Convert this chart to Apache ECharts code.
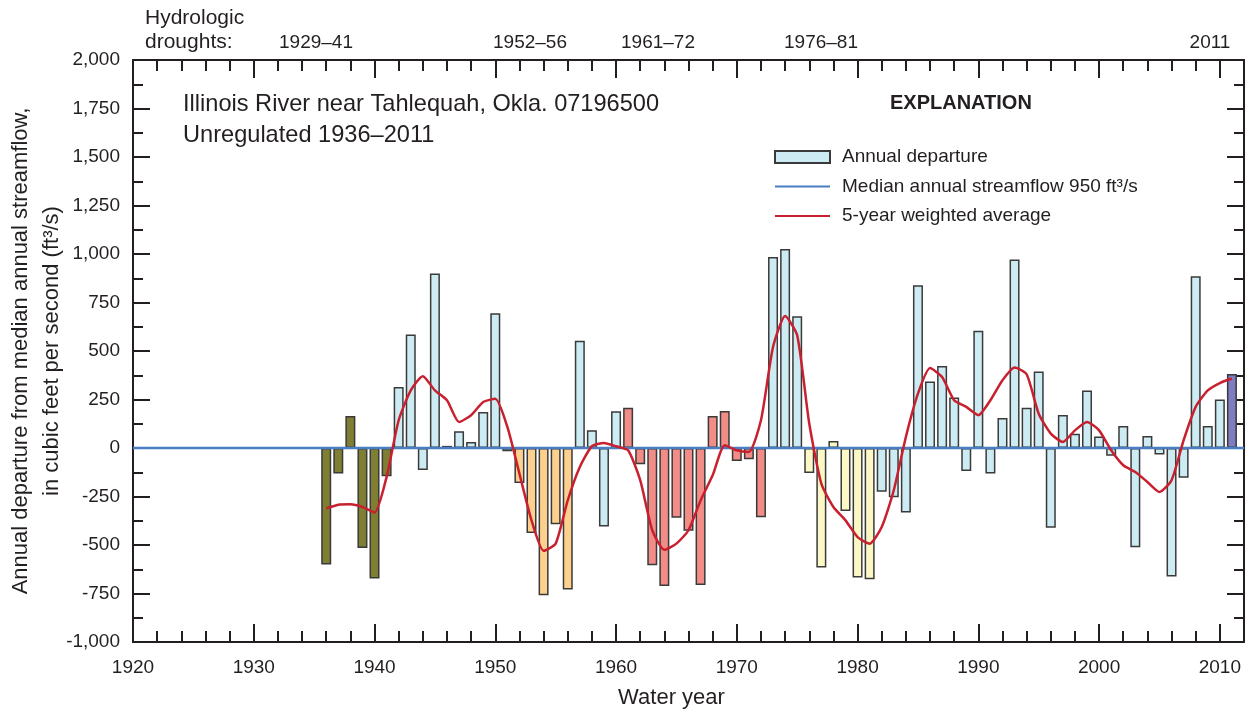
<!DOCTYPE html>
<html>
<head>
<meta charset="utf-8">
<title>Illinois River near Tahlequah, Okla. - annual departure</title>
<script src="https://cdn.jsdelivr.net/npm/echarts@6/dist/echarts.min.js"></script>
<style>
  html, body { margin: 0; padding: 0; background: #fff; }
  #chart { width: 1251px; height: 715px; }
</style>
</head>
<body>
<div id="chart"></div>
<script>
// water years on record (unregulated 1936-2011)
const years = [
  1936, 1937, 1938, 1939, 1940, 1941, 1942, 1943, 1944, 1945,
  1946, 1947, 1948, 1949, 1950, 1951, 1952, 1953, 1954, 1955,
  1956, 1957, 1958, 1959, 1960, 1961, 1962, 1963, 1964, 1965,
  1966, 1967, 1968, 1969, 1970, 1971, 1972, 1973, 1974, 1975,
  1976, 1977, 1978, 1979, 1980, 1981, 1982, 1983, 1984, 1985,
  1986, 1987, 1988, 1989, 1990, 1991, 1992, 1993, 1994, 1995,
  1996, 1997, 1998, 1999, 2000, 2001, 2002, 2003, 2004, 2005,
  2006, 2007, 2008, 2009, 2010, 2011
];

// annual departure from median streamflow, ft3/s
const departure = [
  -600, -132, 165, -515, -673, -146, 315, 585, -113, 899,
  11, 86, 31, 186, 694, -17, -180, -438, -759, -393,
  -729, 553, 92, -404, 189, 208, -84, -605, -711, -360,
  -427, -706, 165, 191, -67, -58, -357, 984, 1026, 679,
  -129, -616, 36, -325, -668, -676, -225, -254, -333, 839,
  343, 423, 260, -118, 605, -132, 155, 972, 207, 394,
  -411, 170, 74, 296, 59, -40, 113, -512, 62, -34,
  -663, -153, 885, 113, 250, 382
];

// 5-year weighted average, ft3/s
const weighted = [
  -312, -292, -290, -304, -333, -149, 143, 297, 370, 297,
  246, 134, 169, 237, 254, 109, -132, -373, -530, -493,
  -270, -98, 9, 26, 9, -12, -166, -424, -525, -493,
  -424, -270, -141, 14, -12, -20, 143, 521, 680, 581,
  126, -184, -304, -373, -459, -493, -407, -218, 57, 280,
  412, 366, 246, 212, 169, 246, 349, 415, 380, 177,
  74, 31, 91, 134, 91, -12, -89, -124, -175, -227,
  -166, 40, 212, 297, 335, 358
];

// hydrologic droughts
const droughtLabels = ['1929\u201341', '1952\u201356', '1961\u201372', '1976\u201381', '2011'];
const droughtStart = [1929, 1952, 1961, 1976, 2011];
const droughtEnd = [1941, 1956, 1972, 1981, 2011];

const medianFlow = 950;
const xTicksMajor = 10;
const yTicks = 250;

const droughtColors = ['#7f7f33', '#fed08e', '#f18c87', '#fcf8c5', '#7f7dc1'];
const wetColor = '#cdebf2';
const ink = '#231f20';
const sans = '"Liberation Sans", Arial, sans-serif';

function barColor(yr) {
  for (let i = 0; i < droughtStart.length; i++) {
    if (yr >= droughtStart[i] && yr <= droughtEnd[i]) return droughtColors[i];
  }
  return wetColor;
}

const chart = echarts.init(document.getElementById('chart'));

const xBase = {
  type: 'value',
  min: 1920,
  max: 2012,
  splitLine: { show: false },
  axisLine: { show: true, onZero: false, lineStyle: { color: ink, width: 2 } },
  axisLabel: { show: false }
};
const hiddenLine = { show: false, onZero: false };
const yBase = {
  type: 'value',
  min: -1000,
  max: 2000,
  interval: yTicks,
  splitLine: { show: false },
  axisLine: { show: true, onZero: false, lineStyle: { color: ink, width: 2 } },
  axisTick: { inside: true, length: 17, lineStyle: { color: ink, width: 2 } },
  minorTick: { show: true, splitNumber: 2, length: 10, lineStyle: { color: ink, width: 2 } }
};

const option = {
  animation: false,
  textStyle: { fontFamily: sans, color: ink },
  grid: { left: 133, right: 7, top: 60, bottom: 73, containLabel: false, outerBoundsMode: 'none' },
  xAxis: [
    Object.assign({}, xBase, {
      position: 'bottom',
      interval: xTicksMajor,
      axisTick: { inside: true, length: 18, lineStyle: { color: ink, width: 2 } },
      axisLabel: {
        show: true,
        showMaxLabel: false,
        margin: 16,
        fontFamily: sans,
        fontSize: 19,
        color: ink,
        formatter: v => (v % 10 === 0 ? String(v) : '')
      },
      name: 'Water year',
      nameLocation: 'middle',
      nameGap: 45,
      nameMoveOverlap: false,
      nameTextStyle: { fontFamily: sans, fontSize: 22, color: ink, padding: [0, 34, 0, 0] }
    }),
    Object.assign({}, xBase, {
      position: 'bottom',
      interval: 2,
      axisLine: hiddenLine,
      axisTick: { inside: true, length: 11, lineStyle: { color: ink, width: 2 } }
    }),
    Object.assign({}, xBase, {
      position: 'top',
      interval: xTicksMajor,
      axisTick: { inside: true, length: 18, lineStyle: { color: ink, width: 2 } }
    }),
    Object.assign({}, xBase, {
      position: 'top',
      interval: 2,
      axisLine: hiddenLine,
      axisTick: { inside: true, length: 11, lineStyle: { color: ink, width: 2 } }
    })
  ],
  yAxis: [
    Object.assign({}, yBase, {
      position: 'left',
      axisLabel: {
        margin: 13,
        fontFamily: sans,
        fontSize: 19,
        color: ink,
        formatter: v => v.toLocaleString('en-US')
      },
      name: 'Annual departure from median annual streamflow,\nin cubic feet per second (ft\u00b3/s)',
      nameLocation: 'middle',
      nameRotate: 90,
      nameGap: 66,
      nameMoveOverlap: false,
      nameTextStyle: { fontFamily: sans, fontSize: 22, lineHeight: 31, color: ink }
    }),
    Object.assign({}, yBase, {
      position: 'right',
      axisLabel: { show: false }
    })
  ],
  legend: {
    orient: 'vertical',
    left: 774,
    top: 147,
    padding: 0,
    itemWidth: 55,
    itemHeight: 12,
    itemGap: 9.5,
    selectedMode: false,
    textStyle: { fontFamily: sans, fontSize: 19, lineHeight: 20, color: ink, padding: [0, 0, 0, 7] },
    data: [
      { name: 'Annual departure', icon: 'rect' },
      { name: 'Median annual streamflow ' + medianFlow + ' ft\u00b3/s', itemStyle: { opacity: 0 } },
      { name: '5-year weighted average', itemStyle: { opacity: 0 } }
    ]
  },
  graphic: [
    { type: 'text', left: 145, top: 8, style: { text: 'Hydrologic', font: '21px ' + sans, fill: ink } },
    { type: 'text', left: 145, top: 32, style: { text: 'droughts:', font: '21px ' + sans, fill: ink } },
    { type: 'text', left: 183, top: 92, style: { text: 'Illinois River near Tahlequah, Okla. 07196500', font: '23.6px ' + sans, fill: ink } },
    { type: 'text', left: 183, top: 123, style: { text: 'Unregulated 1936\u20132011', font: '23.6px ' + sans, fill: ink } },
    { type: 'text', left: 890, top: 93, style: { text: 'EXPLANATION', font: 'bold 20px ' + sans, fill: ink } }
  ].concat(droughtLabels.map((t, i) => ({
    type: 'text',
    x: [316, 530, 658, 821, 1210][i],
    y: 43,
    style: { text: t, font: '19px ' + sans, fill: ink, align: 'center', verticalAlign: 'middle' }
  }))),
  series: [
    {
      name: 'Annual departure',
      type: 'bar',
      xAxisIndex: 0,
      yAxisIndex: 0,
      barWidth: 10,
      itemStyle: { color: wetColor, borderColor: '#3a3a3a', borderWidth: 1.5 },
      data: years.map((yr, i) => ({ value: [yr, departure[i]], itemStyle: { color: barColor(yr) } })),
      z: 2
    },
    {
      name: 'Median annual streamflow ' + medianFlow + ' ft\u00b3/s',
      type: 'line',
      xAxisIndex: 0,
      yAxisIndex: 0,
      symbol: 'none',
      lineStyle: { color: '#4a7ec2', width: 2.5 },
      itemStyle: { color: '#4a7ec2' },
      data: [[1920, 0], [2012, 0]],
      z: 3
    },
    {
      name: '5-year weighted average',
      type: 'line',
      xAxisIndex: 0,
      yAxisIndex: 0,
      symbol: 'none',
      smooth: 0.2,
      lineStyle: { color: '#c8202f', width: 2.5 },
      itemStyle: { color: '#c8202f' },
      data: years.map((yr, i) => [yr, weighted[i]]),
      z: 4
    }
  ]
};

chart.setOption(option);
</script>
</body>
</html>
